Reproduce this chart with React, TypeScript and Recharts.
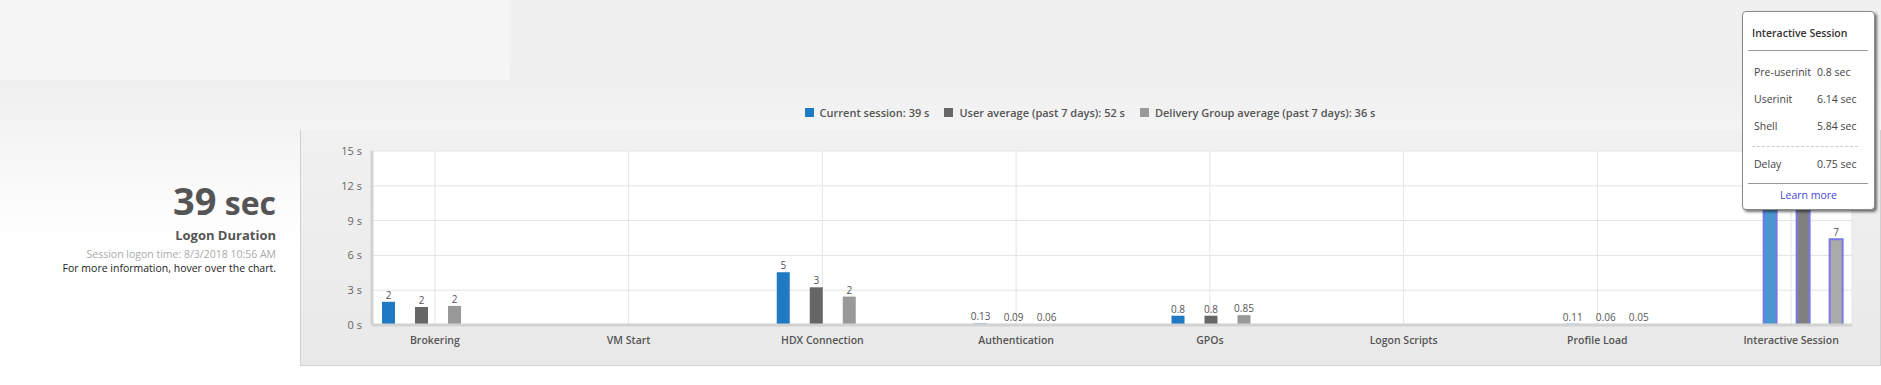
import React from "react";
import { BarChart, Bar, XAxis, YAxis, CartesianGrid, Legend, LabelList, Cell } from "recharts";

const categories = [
  "Brokering",
  "VM Start",
  "HDX Connection",
  "Authentication",
  "GPOs",
  "Logon Scripts",
  "Profile Load",
  "Interactive Session",
];
// seconds per logon phase, null = phase not reported
const currentSession = [2.0, null, 4.55, 0.13, 0.8, null, 0.11, 13.5];
const userAverage = [1.55, null, 3.25, 0.09, 0.8, null, 0.06, 14.0];
const groupAverage = [1.65, null, 2.45, 0.06, 0.85, null, 0.05, 7.4];
const yTicks = [0, 3, 6, 9, 12, 15];

const currentTotal = 39;
const userTotal = 52;
const groupTotal = 36;

const breakdownLabels = ["Pre-userinit", "Userinit", "Shell", "Delay"];
const breakdownValues = [0.8, 6.14, 5.84, 0.75];

const hoverIndex = 7;
const FONT = "'Segoe UI', 'Open Sans', sans-serif";

const data = categories.map((name, i) => ({
  name,
  current: currentSession[i],
  user: userAverage[i],
  group: groupAverage[i],
}));

const fmt = (v: any) => {
  if (v === null || v === undefined) return "";
  return v >= 1 ? String(Math.round(v)) : String(v);
};

const series = [
  { key: "current", name: `Current session: ${currentTotal} s`, fill: "#1f7ac3", hover: "#4a96d0" },
  { key: "user", name: `User average (past 7 days): ${userTotal} s`, fill: "#666666", hover: "#808080" },
  { key: "group", name: `Delivery Group average (past 7 days): ${groupTotal} s`, fill: "#999999", hover: "#ababab" },
];

const renderLegend = (props: any) => {
  const payload = [...(props.payload || [])].sort(
    (a: any, b: any) =>
      series.findIndex((s) => s.name === a.value) - series.findIndex((s) => s.name === b.value)
  );
  return (
    <div style={{ height: 51 }}>
      <div style={{ display: "flex", justifyContent: "center", alignItems: "center", height: 24 }}>
        {payload.map((entry: any, i: number) => (
          <div key={i} style={{ display: "flex", alignItems: "center", marginLeft: i ? 15 : 0 }}>
            <span style={{ display: "inline-block", width: 9, height: 9, background: entry.color, marginRight: 6 }} />
            <span style={{ fontSize: 11, color: "#555", fontWeight: 600, fontFamily: FONT }}>{entry.value}</span>
          </div>
        ))}
      </div>
    </div>
  );
};

const Breakdown = () => (
  <div
    style={{
      position: "absolute",
      left: 1742,
      top: 11,
      width: 131,
      height: 197,
      background: "#fff",
      border: "1px solid #8a8a8a",
      borderRadius: 4,
      boxShadow: "2px 2px 3px rgba(0,0,0,0.55)",
      fontFamily: FONT,
      fontSize: 10.5,
      color: "#444",
      zIndex: 10,
    }}
  >
    <div style={{ position: "absolute", left: 9, top: 14, fontWeight: 600, color: "#333" }}>Interactive Session</div>
    <div style={{ position: "absolute", left: 5, top: 38, width: 120, borderTop: "1px solid #999" }} />
    {breakdownLabels.map((label, i) => {
      const top = i < 3 ? 53 + i * 27 : 145;
      return (
        <React.Fragment key={label}>
          <div style={{ position: "absolute", left: 11, top }}>{label}</div>
          <div style={{ position: "absolute", left: 74, top }}>{breakdownValues[i]} sec</div>
        </React.Fragment>
      );
    })}
    <div style={{ position: "absolute", left: 9, top: 134, width: 106, borderTop: "1px dashed #ccc" }} />
    <div style={{ position: "absolute", left: 5, top: 171, width: 120, borderTop: "1px solid #999" }} />
    <div style={{ position: "absolute", left: 0, top: 176, width: 131, textAlign: "center", color: "#4545e0" }}>
      Learn more
    </div>
  </div>
);

export default function App() {
  return (
    <div
      style={{
        position: "absolute",
        left: 0,
        top: 0,
        width: 1881,
        height: 385,
        overflow: "hidden",
        fontFamily: FONT,
        background: "linear-gradient(#f0f0f0 0px, #efefef 80px, #ffffff 240px)",
      }}
    >
      <div style={{ position: "absolute", left: 0, top: 0, width: 510, height: 80, background: "#f5f5f5" }} />

      <div style={{ position: "absolute", left: 0, top: 178, width: 276, textAlign: "right", color: "#555" }}>
        <div style={{ fontWeight: 700, lineHeight: "44px", whiteSpace: "nowrap" }}>
          <span style={{ fontSize: 38 }}>39</span>
          <span style={{ fontSize: 32 }}> sec</span>
        </div>
        <div style={{ fontWeight: 700, fontSize: 13, lineHeight: "16px", marginTop: -4 }}>Logon Duration</div>
        <div style={{ fontSize: 10.5, color: "#aaa", lineHeight: "14px", marginTop: 4 }}>
          Session logon time: 8/3/2018 10:56 AM
        </div>
        <div style={{ fontSize: 10.5, color: "#222", lineHeight: "14px" }}>
          For more information, hover over the chart.
        </div>
      </div>

      <div
        style={{
          position: "absolute",
          left: 300,
          top: 130,
          width: 1579,
          height: 235,
          background: "linear-gradient(#f1f1f1, #e9e9e9)",
          borderLeft: "1px solid #d0d0d0",
          borderRight: "1px solid #d0d0d0",
          borderBottom: "1px solid #d0d0d0",
        }}
      />

      <div style={{ position: "absolute", left: 300, top: 95 }}>
        <BarChart
          width={1580}
          height={271}
          data={data}
          margin={{ top: 5, right: 28, bottom: 0, left: 0 }}
          barGap={20}
          barSize={13}
        >
          <Legend verticalAlign="top" align="center" content={renderLegend} wrapperStyle={{ left: 0, width: 1580 }} />
          <CartesianGrid xAxisId="labels" stroke="#e4e4e4" fill="#ffffff" />
          <XAxis
            xAxisId="labels"
            dataKey="name"
            interval={0}
            height={41}
            padding={{ left: -34, right: -36 }}
            tickLine={false}
            tickSize={0}
            tickMargin={12}
            axisLine={{ stroke: "#d2d2d2", strokeWidth: 3 }}
            tick={{ fontSize: 10.5, fill: "#555", fontWeight: 600, fontFamily: FONT }}
          />
          <XAxis xAxisId="bars" dataKey="name" hide height={0} padding={{ left: -49, right: -50 }} />
          <YAxis
            domain={[0, 15]}
            ticks={yTicks}
            interval={0}
            width={72}
            tickFormatter={(v: number) => `${v} s`}
            tick={{ fontSize: 11, fill: "#666", fontFamily: FONT }}
            tickLine={false}
            tickSize={0}
            tickMargin={10}
            axisLine={{ stroke: "#d2d2d2", strokeWidth: 3 }}
          />
          {series.map((s) => (
            <Bar
              key={s.key}
              xAxisId="bars"
              dataKey={s.key}
              name={s.name}
              fill={s.fill}
              isAnimationActive={false}
            >
              {data.map((_, i) => (
                <Cell
                  key={i}
                  fill={i === hoverIndex ? s.hover : s.fill}
                  stroke={i === hoverIndex ? "#7a78e4" : "none"}
                  strokeWidth={i === hoverIndex ? 2 : 0}
                />
              ))}
              <LabelList
                dataKey={s.key}
                position="top"
                offset={3}
                formatter={fmt}
                fill="#555"
                fontSize={10}
                fontFamily={FONT}
              />
            </Bar>
          ))}
        </BarChart>
      </div>

      <Breakdown />
    </div>
  );
}
